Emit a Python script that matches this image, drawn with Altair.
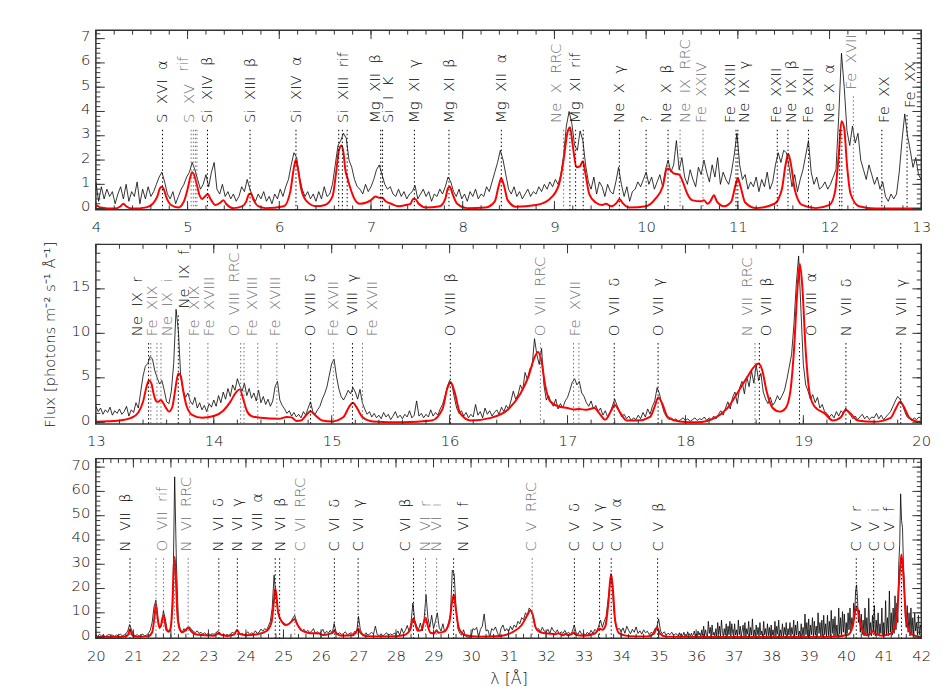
import altair as alt
import pandas as pd
import numpy as np

FONT = "DejaVu Sans"
SP = "\u00a0\u00a0"   # wide word gap used in the line labels

# ---------------- Panel 1 : 4-13 A ----------------
P1_START, P1_STEP = 4.00, 0.03
p1_flux = [
    1.1, 0.3, 0.9, 0.4, 0.8, 0.5, 0.7, 0.2, 0.6, 0.9,
    0.4, 1.0, 0.3, 0.7, 0.5, 1.1, 0.2, 0.8, 0.4, 0.9,
    0.5, 0.7, 1.0, 1.3, 1.5, 1.1, 0.6, 0.4, 0.7, 0.2,
    0.5, 0.8, 1.0, 1.3, 1.5, 1.9, 1.6, 1.2, 0.8, 1.0,
    1.4, 0.9, 1.5, 1.9, 0.8, 0.6, 1.0, 0.5, 0.7, 0.4,
    0.6, 0.3, 0.5, 0.9, 0.7, 1.2, 0.8, 0.5, 0.3, 0.6,
    0.4, 0.7, 0.3, 0.5, 0.2, 0.6, 0.4, 0.8, 0.5, 0.9,
    1.2, 1.8, 2.3, 2.1, 1.3, 0.8, 0.5, 0.7, 0.4, 0.6,
    0.3, 0.7, 0.4, 0.9, 0.5, 0.6, 1.0, 1.8, 2.6, 2.8,
    3.1, 2.9, 2.0, 1.7, 1.2, 0.9, 0.8, 0.6, 1.0, 0.7,
    0.9, 1.2, 1.6, 1.8, 1.4, 1.0, 0.8, 0.9, 0.6, 0.5,
    0.8, 0.5, 0.7, 0.4, 0.6, 0.7, 0.95, 0.4, 0.6, 0.8,
    0.5, 0.7, 0.3, 0.6, 0.5, 0.8, 0.6, 0.9, 1.3, 1.1,
    0.7, 0.5, 0.8, 0.4, 0.6, 0.3, 0.7, 0.5, 0.8, 0.4,
    0.6, 0.5, 0.9, 0.7, 1.1, 1.5, 1.9, 2.4, 2.0, 1.4,
    0.8, 0.6, 0.9, 0.5, 0.7, 0.4, 0.6, 0.8, 0.5, 0.7,
    0.6, 0.9, 0.7, 1.0, 0.8, 1.1, 0.9, 1.2, 1.0, 1.4,
    2.2, 3.4, 4.0, 3.5, 2.6, 2.4, 3.2, 2.8, 1.8, 1.1,
    0.8, 1.3, 0.6, 1.1, 0.9, 0.5, 1.0, 0.7, 0.6, 1.1,
    1.7, 1.0, 0.5, 0.9, 0.3, 0.7, 0.8, 1.1, 0.9, 1.2,
    1.5, 1.0, 1.3, 0.8, 1.1, 1.4, 0.9, 1.6, 2.0, 1.5,
    1.8, 2.8, 1.6, 2.1, 1.3, 1.0, 1.6, 1.2, 0.9, 1.7,
    1.4, 2.0, 1.5, 1.1, 1.8, 1.3, 2.1, 1.0, 1.5, 1.2,
    1.0, 1.5, 2.2, 3.1, 1.8, 1.2, 1.4, 0.8, 1.1, 0.9,
    1.3, 0.7, 1.2, 0.9, 1.5, 0.8, 1.1, 1.8, 2.3, 1.9,
    2.4, 2.3, 1.7, 0.9, 1.4, 0.7, 1.2, 1.6, 2.2, 2.8,
    1.5, 1.0, 1.3, 0.8, 0.9, 1.1, 0.8, 1.0, 1.3, 1.6,
    3.8, 6.4, 5.0, 3.2, 2.6, 3.4, 2.7, 3.1, 2.0, 1.6,
    1.2, 1.8, 1.4, 1.0, 1.3, 0.8, 1.1, 0.5, 0.3, 0.6,
    0.4, 0.6, 1.5, 2.8, 3.9, 3.0, 2.4, 1.7, 2.1, 1.4,
    1.2,
]
p1_model = [
    (4.00, 0.15), (4.05, 0.05), (4.20, 0.0), (4.27, 0.1), (4.30, 0.2), (4.33, 0.1),
    (4.40, 0.0), (4.55, 0.05), (4.62, 0.2), (4.67, 0.5), (4.70, 0.85), (4.72, 0.9),
    (4.74, 0.8), (4.77, 0.45), (4.82, 0.15), (4.90, 0.05), (4.96, 0.3), (5.00, 0.8),
    (5.03, 1.3), (5.05, 1.5), (5.07, 1.4), (5.10, 1.0), (5.13, 0.55), (5.16, 0.4),
    (5.19, 0.5), (5.22, 0.6), (5.25, 0.4), (5.30, 0.15), (5.36, 0.25), (5.39, 0.35),
    (5.42, 0.2), (5.50, 0.02), (5.60, 0.1), (5.64, 0.3), (5.67, 0.6), (5.69, 0.62),
    (5.72, 0.35), (5.77, 0.1), (5.85, 0.02), (6.05, 0.1), (6.12, 0.7), (6.16, 1.7),
    (6.18, 2.0), (6.20, 1.7), (6.24, 0.8), (6.30, 0.3), (6.40, 0.1), (6.50, 0.15),
    (6.58, 0.5), (6.62, 1.5), (6.65, 2.4), (6.68, 2.6), (6.70, 2.3), (6.72, 1.6),
    (6.74, 1.3), (6.77, 0.9), (6.82, 0.4), (6.88, 0.2), (6.95, 0.25), (7.00, 0.35),
    (7.05, 0.5), (7.09, 0.45), (7.12, 0.45), (7.16, 0.3), (7.22, 0.2), (7.30, 0.1),
    (7.38, 0.15), (7.43, 0.2), (7.46, 0.4), (7.48, 0.4), (7.52, 0.2), (7.60, 0.05),
    (7.75, 0.1), (7.81, 0.4), (7.84, 0.85), (7.86, 0.9), (7.89, 0.6), (7.94, 0.2),
    (8.05, 0.02), (8.25, 0.05), (8.35, 0.3), (8.39, 0.9), (8.42, 1.25), (8.45, 0.95),
    (8.49, 0.35), (8.58, 0.08), (8.80, 0.15), (8.95, 0.4), (9.05, 1.0), (9.10, 2.0),
    (9.14, 3.1), (9.17, 3.35), (9.20, 2.6), (9.24, 1.7), (9.28, 1.75), (9.31, 1.95),
    (9.34, 1.4), (9.38, 0.6), (9.45, 0.25), (9.52, 0.15), (9.56, 0.2), (9.62, 0.1),
    (9.68, 0.25), (9.71, 0.4), (9.74, 0.25), (9.82, 0.05), (10.00, 0.1), (10.10, 0.4),
    (10.18, 0.9), (10.23, 1.65), (10.26, 1.6), (10.30, 1.45), (10.36, 1.4), (10.40, 1.1),
    (10.45, 0.6), (10.50, 0.35), (10.60, 0.3), (10.63, 0.35), (10.67, 0.2), (10.70, 0.3),
    (10.74, 0.55), (10.77, 0.3), (10.85, 0.1), (10.93, 0.3), (10.97, 0.9), (11.00, 1.25),
    (11.03, 0.9), (11.08, 0.25), (11.20, 0.02), (11.40, 0.2), (11.48, 0.8), (11.52, 1.8),
    (11.55, 2.25), (11.58, 1.8), (11.62, 0.8), (11.70, 0.15), (11.85, 0.02), (12.00, 0.15),
    (12.06, 0.7), (12.10, 2.2), (12.13, 3.6), (12.16, 3.3), (12.19, 1.8), (12.23, 0.6),
    (12.32, 0.1), (12.50, 0.0), (13.00, 0.0),
]
# (label, label x, [line wavelengths], colour code, label start y or None)
p1_ids = [
    ("S  XVI  α", 4.72, [4.727], "k", None),
    ("S  XV", 5.02, [5.039, 5.063, 5.085, 5.102], "g", None),
    ("rif", 4.955, [], "g", 5.64),
    ("Si  XIV  β", 5.21, [5.217], "k", None),
    ("Si  XIII  β", 5.68, [5.681], "k", None),
    ("Si  XIV  α", 6.18, [6.182], "k", None),
    ("Si  XIII  rif", 6.69, [6.648, 6.688, 6.740], "k", None),
    ("Mg  XII  β", 7.04, [7.106], "k", None),
    ("Si  I  K", 7.19, [7.126], "k", None),
    ("Mg  XI  γ", 7.473, [7.473], "k", None),
    ("Mg  XI  β", 7.85, [7.850], "k", None),
    ("Mg  XII  α", 8.42, [8.421], "k", None),
    ("Ne  X  RRC", 9.02, [9.10], "g", None),
    ("Mg  XI  rif", 9.22, [9.169, 9.231, 9.314], "k", None),
    ("Ne  X  γ", 9.708, [9.708], "k", None),
    ("?", 10.00, [10.00], "k", None),
    ("Ne  X  β", 10.22, [10.239], "k", None),
    ("Ne  IX  RRC", 10.42, [10.37], "g", None),
    ("Fe  XXIV", 10.60, [10.62], "g", None),
    ("Fe  XXIII", 10.91, [10.98], "k", None),
    ("Ne  IX  γ", 11.07, [11.00], "k", None),
    ("Fe  XXII", 11.42, [11.43], "k", None),
    ("Ne  IX  β", 11.58, [11.547], "k", None),
    ("Fe  XXII", 11.77, [11.77], "k", None),
    ("Ne  X  α", 12.00, [12.11, 12.134], "k", None),
    ("Fe  XVII", 12.235, [12.26], "g", 4.91),
    ("Fe  XX", 12.59, [12.57], "k", None),
    ("Fe  XX", 12.88, [12.845], "k", 4.14),
]

# ---------------- Panel 2 : 13-20 A ----------------
P2_START, P2_STEP = 13.00, 0.02
p2_flux = [
    1.8, 1.2, 1.6, 0.9, 1.4, 1.1, 1.7, 0.8, 1.3, 1.0,
    1.5, 0.9, 1.2, 1.8, 0.7, 1.4, 1.1, 2.2, 1.6, 3.4,
    5.2, 6.3, 6.6, 7.4, 7.1, 5.8, 5.0, 4.3, 4.7, 3.6,
    2.3, 2.1, 3.5, 6.6, 12.7, 10.2, 5.0, 3.6, 2.8, 3.3,
    2.4, 2.0, 2.8, 1.6, 2.2, 1.4, 1.9, 1.2, 2.1, 1.7,
    2.5, 1.8, 3.0, 2.2, 3.4, 2.6, 3.8, 2.9, 4.2, 3.6,
    4.9, 4.1, 3.5, 4.4, 3.0, 3.8, 2.7, 3.3, 2.4, 3.6,
    2.2, 2.9, 2.0, 2.6, 1.8, 2.4, 4.0, 4.6, 2.5, 1.9,
    1.5, 1.0, 1.3, 0.7, 1.1, 0.6, 0.9, 0.5, 1.2, 0.8,
    1.6, 2.3, 1.2, 0.9, 1.4, 1.8, 2.6, 3.2, 4.0, 5.3,
    6.6, 7.1, 5.2, 3.8, 2.9, 2.5, 3.0, 3.6, 3.2, 3.9,
    3.4, 2.6, 3.7, 2.2, 1.5, 0.9, 1.2, 0.6, 1.0, 0.5,
    0.8, 0.4, 1.1, 0.6, 0.9, 0.3, 0.7, 1.2, 0.5, 0.8,
    0.4, 0.9, 0.6, 1.3, 0.5, 0.8, 2.4, 0.7, 1.0, 0.5,
    0.9, 0.6, 1.4, 0.7, 1.1, 0.8, 1.5, 2.0, 2.9, 4.0,
    4.7, 4.2, 2.8, 1.6, 1.0, 1.3, 0.7, 1.1, 0.5, 0.9,
    0.6, 2.0, 0.8, 1.2, 0.5, 1.6, 0.9, 1.3, 0.7, 1.1,
    1.4, 0.9, 1.7, 1.2, 1.9, 1.5, 2.4, 3.5, 2.6, 3.1,
    4.2, 3.6, 5.6, 4.8, 6.0, 6.3, 9.4, 7.6, 6.5, 8.3,
    4.2, 2.5, 3.0, 2.2, 1.8, 2.6, 1.5, 2.1, 1.6, 2.4,
    2.8, 3.6, 4.5, 4.9, 4.2, 4.6, 3.3, 2.9, 2.2, 1.8,
    2.4, 1.5, 1.9, 1.2, 1.6, 0.8, 1.3, 0.6, 1.1, 1.8,
    2.6, 1.9, 1.2, 0.6, 0.9, 0.4, 0.7, 0.2, 0.5, 0.3,
    0.8, 0.4, 1.1, 0.6, 1.5, 0.9, 1.8, 2.4, 3.9, 3.2,
    2.0, 1.1, 0.6, 0.3, 0.5, 0.2, 0.4, 0.1, 0.3, 0.5,
    0.2, 0.4, 0.1, 0.3, 0.5, 0.2, 0.4, 0.3, 0.6, 0.2,
    0.5, 0.3, 0.7, 0.4, 0.9, 1.3, 0.8, 1.6, 2.3, 1.5,
    2.8, 3.4, 2.1, 3.9, 4.6, 3.2, 5.1, 4.0, 5.8, 4.4,
    6.5, 4.7, 5.5, 3.4, 2.6, 2.1, 2.8, 1.9, 2.3, 3.0,
    2.5, 3.0, 3.6, 4.8, 6.2, 7.6, 11.0, 15.5, 18.7, 12.5,
    6.5, 4.2, 3.5, 2.6, 3.1, 2.2, 2.8, 1.6, 2.0, 1.2,
    1.0, 0.6, 0.9, 0.5, 1.2, 0.7, 1.3, 1.0, 1.6, 1.1,
    0.8, 0.4, 0.7, 0.3, 0.6, 0.9, 0.4, 0.7, 0.3, 0.6,
    0.5, 1.0, 0.4, 0.8, 0.3, 0.6, 0.9, 1.2, 1.8, 2.4,
    2.9, 2.6, 2.0, 1.2, 0.6, 0.4, 0.2, 0.5, 0.3, 0.6,
    0.4,
]
p2_model = [
    (13.00, 0.05), (13.20, 0.2), (13.30, 0.5), (13.36, 1.1), (13.40, 2.3), (13.43, 4.0),
    (13.45, 4.7), (13.47, 4.4), (13.49, 3.2), (13.51, 2.4), (13.53, 2.3), (13.55, 2.5),
    (13.57, 2.2), (13.60, 1.5), (13.62, 1.2), (13.65, 1.8), (13.67, 3.4), (13.70, 5.5),
    (13.72, 5.2), (13.74, 3.6), (13.77, 1.8), (13.82, 0.8), (13.90, 0.5), (14.00, 0.7),
    (14.08, 1.3), (14.14, 2.3), (14.19, 3.4), (14.22, 3.7), (14.25, 2.6), (14.28, 1.3),
    (14.32, 0.7), (14.40, 0.5), (14.55, 0.4), (14.62, 0.6), (14.66, 0.55), (14.70, 0.15),
    (14.74, 0.2), (14.79, 0.9), (14.82, 1.25), (14.86, 0.8), (14.92, 0.2), (15.00, 0.1),
    (15.10, 0.6), (15.15, 1.8), (15.18, 2.2), (15.21, 1.7), (15.26, 0.6), (15.35, 0.1),
    (15.60, 0.0), (15.85, 0.2), (15.94, 1.5), (15.98, 3.8), (16.01, 4.5), (16.04, 3.5),
    (16.09, 1.0), (16.18, 0.2), (16.35, 0.5), (16.50, 1.5), (16.60, 3.2), (16.67, 5.2),
    (16.72, 7.3), (16.75, 7.9), (16.78, 6.8), (16.81, 4.2), (16.85, 2.4), (16.92, 1.8),
    (17.00, 1.6), (17.05, 1.45), (17.10, 1.5), (17.15, 1.4), (17.23, 1.6), (17.27, 1.0),
    (17.32, 0.3), (17.37, 1.3), (17.40, 1.95), (17.45, 1.0), (17.50, 0.2), (17.60, 0.2),
    (17.70, 0.6), (17.74, 1.8), (17.77, 2.8), (17.80, 2.2), (17.85, 0.6), (17.95, 0.1),
    (18.10, 0.0), (18.25, 0.5), (18.35, 1.5), (18.45, 3.5), (18.52, 5.0), (18.58, 6.2),
    (18.62, 6.6), (18.65, 5.9), (18.69, 3.4), (18.74, 1.6), (18.80, 1.2), (18.85, 1.6),
    (18.89, 3.5), (18.92, 8.0), (18.95, 15.0), (18.97, 17.8), (18.99, 15.5), (19.02, 8.0),
    (19.06, 2.8), (19.10, 1.7), (19.18, 1.0), (19.25, 0.2), (19.32, 0.6), (19.36, 1.4),
    (19.40, 1.0), (19.46, 0.2), (19.60, 0.05), (19.74, 0.5), (19.79, 1.7), (19.82, 2.3),
    (19.85, 1.8), (19.90, 0.5), (19.96, 0.1), (20.00, 0.05),
]
p2_ids = [
    ("Ne  IX  r", 13.35, [13.447], "k", None),
    ("Fe  XIX", 13.475, [13.466, 13.518], "g", None),
    ("Ne  IX  i", 13.605, [13.552], "g", None),
    ("Ne  IX  f", 13.745, [13.699], "k", 12.79),
    ("Fe  XIX", 13.83, [13.795], "g", None),
    ("Fe  XVIII", 13.96, [13.95], "g", None),
    ("O  VIII  RRC", 14.17, [14.228], "g", None),
    ("Fe  XVIII", 14.325, [14.256, 14.373], "g", None),
    ("Fe  XVIII", 14.52, [14.535], "g", None),
    ("O  VIII  δ", 14.82, [14.821], "k", None),
    ("Fe  XVII", 15.015, [15.014], "g", None),
    ("O  VIII  γ", 15.176, [15.176], "k", None),
    ("Fe  XVII", 15.345, [15.261], "g", None),
    ("O  VIII  β", 16.006, [16.006], "k", None),
    ("O  VII  RRC", 16.77, [16.77], "g", None),
    ("Fe  XVII", 17.06, [17.051, 17.096], "g", None),
    ("O  VII  δ", 17.396, [17.396], "k", None),
    ("O  VII  γ", 17.768, [17.768], "k", None),
    ("N  VII  RRC", 18.526, [18.59], "g", None),
    ("O  VII  β", 18.685, [18.627], "k", None),
    ("O  VIII  α", 19.065, [18.967], "k", None),
    ("N  VII  δ", 19.361, [19.361], "k", None),
    ("N  VII  γ", 19.826, [19.826], "k", None),
]

# ---------------- Panel 3 : 20-42 A ----------------
# 20.00-35.45 A sampled every 0.05 A
P3_START, P3_STEP = 20.00, 0.05
p3_flux = [
    0.8, 0.3, 1.2, 0.5, 0.9, 0.2, 0.7, 1.1, 0.4, 0.8,
    0.3, 0.9, 0.5, 1.3, 0.6, 0.8, 1.4, 2.5, 5.2, 3.0,
    1.2, 0.6, 1.0, 0.4, 0.8, 1.2, 0.5, 0.9, 1.5, 2.8,
    6.0, 12.5, 15.2, 8.0, 3.5, 5.0, 10.8, 7.5, 3.0, 2.5,
    4.0, 12.0, 66.0, 28.0, 6.5, 3.0, 2.2, 3.5, 2.4, 3.8,
    4.2, 3.0, 2.4, 1.8, 2.6, 1.5, 2.0, 1.2, 1.8, 1.0,
    1.6, 0.9, 1.4, 1.1, 1.8, 2.4, 1.2, 0.8, 1.3, 0.7,
    1.1, 0.6, 1.5, 2.0, 1.2, 3.1, 2.2, 1.0, 1.6, 0.9,
    1.4, 2.2, 1.0, 1.8, 1.3, 2.6, 1.5, 2.0, 3.3, 2.4,
    3.5, 2.8, 4.6, 6.5, 12.0, 25.5, 17.0, 10.5, 8.0, 6.6,
    6.0, 5.4, 4.8, 5.6, 6.4, 7.8, 9.0, 6.2, 4.4, 3.0,
    2.6, 3.2, 2.0, 2.8, 1.8, 2.4, 3.5, 1.6, 2.2, 1.5,
    2.0, 3.2, 1.4, 2.4, 1.7, 2.8, 1.5, 5.6, 2.2, 1.3,
    1.8, 1.0, 1.5, 2.2, 0.9, 1.4, 1.8, 1.2, 2.4, 1.6,
    8.5, 3.0, 1.4, 1.0, 1.8, 0.8, 1.3, 2.0, 1.2, 4.5,
    1.0, 0.6, 1.4, 0.5, 1.1, 1.8, 0.7, 1.3, 0.9, 1.6,
    1.2, 2.5, 0.8, 3.6, 1.5, 2.8, 4.8, 2.2, 6.0, 14.0,
    7.0, 4.5, 3.0, 5.8, 2.5, 7.5, 17.5, 8.0, 4.0, 9.0,
    3.5, 6.5, 10.0, 4.0, 2.5, 5.5, 2.0, 3.5, 6.0, 9.0,
    27.5, 26.0, 12.0, 3.5, 1.5, 0.8, 3.0, 0.5, 0.0, 0.0,
    0.0, 3.5, 3.0, 4.0, 0.0, 3.2, 4.5, 9.5, 2.5, 3.0,
    0.0, 3.5, 2.8, 4.2, 2.0, 0.0, 3.6, 5.0, 2.5, 3.5,
    2.2, 4.5, 3.0, 5.0, 4.0, 6.5, 5.5, 8.0, 7.2, 10.0,
    9.0, 12.0, 11.0, 8.5, 5.0, 2.8, 3.5, 2.2, 4.0, 2.5,
    2.0, 3.2, 1.5, 4.0, 2.6, 1.8, 3.0, 1.2, 2.2, 1.5,
    2.8, 1.4, 2.0, 1.0, 2.4, 5.0, 1.8, 1.2, 2.6, 1.0,
    1.6, 0.8, 2.0, 1.2, 2.8, 1.5, 3.2, 2.4, 4.5, 7.0,
    4.0, 6.5, 8.5, 15.0, 22.0, 25.0, 12.0, 5.0, 3.0, 3.6,
    2.2, 3.8, 1.6, 4.5, 2.8, 1.4, 3.2, 2.0, 4.2, 1.5,
    2.6, 1.2, 3.0, 1.8, 2.4, 1.0, 2.0, 1.5, 3.5, 4.0,
    7.5, 2.5, 1.4, 2.2, 0.8, 1.6, 1.0, 2.0, 0.6, 1.4,
]
# 35.50-42.00 A, finer bins (0.025 A)
P3B_START, P3B_STEP = 35.50, 0.025
p3b_flux = [
    1.0, 0.4, 1.8, 0.6, 1.5, 0.3, 0.9, 2.0, 0.5, 1.2,
    0.3, 2.2, 0.8, 1.4, 0.2, 1.6, 0.6, 1.0, 2.5, 0.4,
    1.4, 0.3, 2.5, 0.8, 1.8, 0.2, 3.0, 0.6, 4.5, 0.5,
    3.0, 1.0, 0.2, 6.5, 1.5, 4.0, 0.3, 5.0, 0.8, 2.0,
    0.5, 3.5, 0.2, 6.0, 1.2, 4.5, 0.4, 7.0, 2.0, 0.3,
    3.5, 0.8, 5.5, 0.2, 4.5, 1.0, 6.5, 0.3, 5.5, 1.5,
    0.4, 5.5, 0.8, 3.0, 0.2, 7.0, 1.0, 4.5, 0.3, 2.5,
    5.0, 0.5, 6.0, 0.2, 3.5, 1.2, 6.5, 0.3, 4.0, 0.8,
    7.5, 0.4, 3.0, 0.2, 5.0, 1.0, 4.0, 0.3, 6.0, 0.8,
    2.5, 0.3, 6.5, 1.0, 3.5, 0.2, 5.5, 0.6, 4.0, 0.3,
    5.0, 0.8, 3.0, 0.2, 6.5, 0.5, 4.5, 1.2, 7.0, 0.3,
    3.0, 0.5, 5.5, 0.2, 4.0, 1.0, 6.0, 0.3, 3.5, 0.8,
    6.0, 0.3, 4.0, 1.2, 7.0, 0.2, 5.0, 0.8, 6.5, 0.4,
    2.5, 0.2, 5.5, 0.6, 4.0, 0.3, 9.5, 1.0, 6.0, 0.5,
    7.5, 0.3, 5.0, 1.0, 8.0, 0.2, 6.5, 0.8, 4.5, 0.3,
    10.0, 1.5, 6.0, 0.4, 7.0, 0.2, 9.0, 1.0, 5.5, 0.3,
    9.0, 0.6, 6.5, 0.2, 11.0, 1.5, 7.5, 0.4, 8.5, 0.5,
    5.0, 0.3, 12.0, 1.2, 8.0, 0.5, 10.5, 2.0, 9.5, 1.0,
    6.0, 1.5, 10.0, 3.0, 12.0, 2.5, 8.0, 4.0, 14.0, 9.0,
    19.0, 21.5, 16.0, 6.0, 11.0, 2.0, 9.5, 1.0, 7.0, 0.5,
    12.0, 0.8, 8.0, 0.4, 16.0, 1.0, 6.0, 0.5, 9.0, 2.5,
    13.0, 0.5, 7.0, 1.0, 10.0, 0.4, 5.5, 1.5, 12.0, 0.6,
    6.0, 0.5, 15.0, 1.0, 8.0, 0.6, 19.0, 2.0, 10.0, 0.8,
    12.0, 1.5, 17.0, 3.0, 14.0, 6.0, 30.0, 38.0, 59.0, 48.0,
    45.0, 30.0, 22.0, 8.0, 4.0, 13.0, 2.0, 10.0, 0.5, 12.0,
    1.0, 8.0, 0.5, 10.0, 2.5, 6.0, 0.8, 9.0, 1.0, 5.0,
    3.0,
]
p3_model = [
    (20.00, 0.0), (20.70, 0.05), (20.84, 0.6), (20.88, 2.0), (20.91, 3.2), (20.94, 2.0),
    (20.98, 0.6), (21.10, 0.1), (21.40, 0.4), (21.50, 2.0), (21.56, 8.0), (21.60, 13.5),
    (21.64, 8.5), (21.69, 4.0), (21.73, 4.5), (21.77, 7.5), (21.80, 8.8), (21.83, 7.0),
    (21.88, 3.0), (21.95, 2.2), (22.00, 4.5), (22.04, 14.0), (22.08, 30.0), (22.10, 33.0),
    (22.13, 25.0), (22.17, 10.0), (22.23, 3.5), (22.30, 2.0), (22.40, 3.0), (22.46, 4.0),
    (22.52, 2.8), (22.65, 1.2), (22.90, 0.8), (23.15, 0.6), (23.24, 1.4), (23.28, 1.8),
    (23.33, 1.0), (23.50, 0.5), (23.68, 1.0), (23.74, 2.4), (23.78, 2.6), (23.83, 1.3),
    (24.00, 0.8), (24.30, 1.2), (24.55, 2.5), (24.68, 6.0), (24.74, 14.0), (24.78, 20.0),
    (24.81, 17.5), (24.86, 10.0), (24.95, 6.5), (25.05, 5.0), (25.15, 5.5), (25.25, 7.0),
    (25.30, 7.5), (25.36, 5.5), (25.50, 2.6), (25.70, 1.6), (25.95, 1.5), (26.05, 0.9),
    (26.20, 1.2), (26.32, 2.0), (26.36, 2.6), (26.41, 1.5), (26.55, 0.6), (26.85, 0.8),
    (26.95, 2.5), (26.99, 3.6), (27.04, 2.0), (27.20, 0.4), (27.80, 0.3), (28.20, 0.8),
    (28.38, 3.0), (28.45, 7.5), (28.50, 6.0), (28.58, 2.6), (28.68, 3.0), (28.75, 6.5),
    (28.79, 8.0), (28.84, 5.0), (28.92, 1.8), (29.02, 1.5), (29.08, 2.8), (29.13, 1.8),
    (29.30, 2.5), (29.42, 6.0), (29.50, 15.0), (29.54, 17.5), (29.59, 12.0), (29.68, 3.5),
    (29.85, 0.8), (30.20, 0.2), (30.80, 0.5), (31.10, 2.0), (31.35, 5.0), (31.50, 9.0),
    (31.58, 11.0), (31.64, 9.5), (31.72, 4.0), (31.85, 2.0), (32.10, 1.4), (32.25, 1.2),
    (32.33, 1.6), (32.38, 1.2), (32.46, 0.8), (32.52, 1.4), (32.58, 0.8), (32.70, 1.4),
    (32.75, 2.0), (32.80, 1.0), (33.00, 0.6), (33.30, 1.5), (33.43, 3.5), (33.50, 3.0),
    (33.58, 4.5), (33.66, 14.0), (33.73, 26.0), (33.78, 20.0), (33.84, 7.0), (33.95, 1.5),
    (34.20, 0.4), (34.70, 0.3), (34.88, 1.5), (34.96, 4.0), (35.03, 1.5), (35.20, 0.2),
    (36.00, 0.0), (38.00, 0.0), (39.60, 0.1), (40.05, 1.0), (40.18, 5.0), (40.27, 12.5),
    (40.32, 10.5), (40.40, 4.0), (40.55, 0.8), (40.66, 1.5), (40.72, 2.5), (40.78, 1.3),
    (40.95, 0.6), (41.20, 1.5), (41.33, 6.0), (41.42, 25.0), (41.47, 34.0), (41.52, 26.0),
    (41.60, 7.0), (41.75, 1.0), (42.00, 0.1),
]
p3_ids = [
    ("N  VII  β", 20.79, [20.910], "k", None),
    ("O  VII  rif", 21.755, [21.602, 21.804, 22.098], "g", None),
    ("N  VI  RRC", 22.41, [22.46], "g", None),
    ("N  VI  δ", 23.245, [23.277], "k", None),
    ("N  VI  γ", 23.771, [23.771], "k", None),
    ("N  VII  α", 24.30, [24.781], "k", None),
    ("N  VI  β", 24.91, [24.898], "k", None),
    ("C  VI  RRC", 25.44, [25.30], "g", None),
    ("C  VI  δ", 26.357, [26.357], "k", None),
    ("C  VI  γ", 26.990, [26.990], "k", None),
    ("C  VI  β", 28.245, [28.466], "k", None),
    ("N  VI  r", 28.77, [28.787], "g", None),
    ("N  VI  i", 29.08, [29.083], "g", None),
    ("N  VI  f", 29.78, [29.534], "k", None),
    ("C  V  RRC", 31.60, [31.63], "g", None),
    ("C  V  δ", 32.754, [32.754], "k", None),
    ("C  V  γ", 33.38, [33.426], "k", None),
    ("C  VI  α", 33.86, [33.736], "k", None),
    ("C  V  β", 34.973, [34.973], "k", None),
    ("C  V  r", 40.27, [40.268], "k", None),
    ("C  V  i", 40.73, [40.731], "k", None),
    ("C  V  f", 41.14, [41.472], "k", None),
]

COLS = {"k": "#000000", "g": "#6e6e6e"}
W, H = 836, 182
FRAME = "#333333"
WEIGHT = 300
TXT = "#111111"


def build_panel(segments, model, ids, xdom, ydom, xmaj, xminor, ymaj, yminor,
                lab_y, ytitle=None, xtitle=None):
    lam, flx = [], []
    for start, step, flux in segments:
        lam += [round(start + step * i, 4) for i in range(len(flux))]
        flx += list(flux)
    d = pd.DataFrame({"lam": lam, "flux": flx})
    m = pd.DataFrame(model, columns=["lam", "flux"])
    span = ydom[1] - ydom[0]
    gap = 7 * span / H

    lab_rows, rule_rows = [], []
    for text, lx, lines, col, ys in ids:
        y0 = lab_y if ys is None else ys
        lab_rows.append({"lam": lx, "flux": y0, "text": text.replace("  ", SP),
                         "col": COLS[col]})
        for L in lines:
            rule_rows.append({"lam": L, "flux": y0 - gap, "col": COLS[col]})
    labs = pd.DataFrame(lab_rows)
    rules = pd.DataFrame(rule_rows)

    xs = alt.Scale(domain=list(xdom), nice=False, zero=False)
    ys_ = alt.Scale(domain=list(ydom), nice=False, zero=False)

    xax = dict(values=xmaj, ticks=False, tickSize=0, domain=False, grid=False,
               labelPadding=10, labelFontSize=15, labelFont=FONT, labelColor=TXT,
               labelFontWeight=WEIGHT, format="d", labelFlush=False)
    if xtitle:
        xax.update(title=xtitle, titleFontSize=16, titleFont=FONT, titleFontWeight=WEIGHT,
                   titleColor=TXT, titlePadding=8)
    else:
        xax.update(title=None)
    yax = dict(values=ymaj, ticks=False, tickSize=0, domain=False, grid=False,
               labelPadding=6, labelFontSize=15, labelFont=FONT, labelColor=TXT,
               labelFontWeight=WEIGHT, format="d", labelFlush=False, labelOffset=-3)
    if ytitle:
        yax.update(title=ytitle, titleFontSize=15, titleFont=FONT, titleFontWeight=WEIGHT,
                   titleColor=TXT, titlePadding=14)
    else:
        yax.update(title=None)

    X = alt.X("lam:Q", scale=xs, axis=alt.Axis(**xax))
    Y = alt.Y("flux:Q", scale=ys_, axis=alt.Axis(**yax))

    layers = []
    layers.append(alt.Chart(d).mark_line(color="black", strokeWidth=0.8, clip=True)
                  .encode(x=X, y=Y))
    layers.append(alt.Chart(m).mark_line(color="#ff0000", strokeWidth=2, interpolate="monotone",
                                         clip=True).encode(x=X, y=Y))
    layers.append(alt.Chart(rules).mark_rule(strokeDash=[1.5, 2.5], strokeWidth=1)
                  .encode(x=X, y=Y, y2=alt.value(H), color=alt.Color("col:N", scale=None)))
    layers.append(alt.Chart(labs).mark_text(angle=270, align="left", baseline="middle",
                                            fontSize=15, font=FONT, fontWeight=WEIGHT)
                  .encode(x=X, y=Y, text="text:N", color=alt.Color("col:N", scale=None)))

    # inward tick marks on all four sides
    xmaj_df = pd.DataFrame({"lam": xmaj})
    xmin_df = pd.DataFrame({"lam": xminor})
    ymaj_df = pd.DataFrame({"flux": ymaj})
    ymin_df = pd.DataFrame({"flux": yminor})
    for df_, ln in ((xmaj_df, 9), (xmin_df, 4.5)):
        layers.append(alt.Chart(df_).mark_rule(color=FRAME, strokeWidth=1)
                      .encode(x=X, y=alt.value(H), y2=alt.value(H - ln)))
        layers.append(alt.Chart(df_).mark_rule(color=FRAME, strokeWidth=1)
                      .encode(x=X, y=alt.value(0), y2=alt.value(ln)))
    for df_, ln in ((ymaj_df, 9), (ymin_df, 4.5)):
        layers.append(alt.Chart(df_).mark_rule(color=FRAME, strokeWidth=1)
                      .encode(y=Y, x=alt.value(0), x2=alt.value(ln)))
        layers.append(alt.Chart(df_).mark_rule(color=FRAME, strokeWidth=1)
                      .encode(y=Y, x=alt.value(W), x2=alt.value(W - ln)))
    return alt.layer(*layers).properties(width=W, height=H)


def rng(a, b, s):
    return [round(v, 3) for v in np.arange(a, b + s / 2, s)]


p1 = build_panel([(P1_START, P1_STEP, p1_flux)], p1_model, p1_ids, (4, 13), (-0.05, 7.35),
                 list(range(4, 14)), rng(4, 13, 0.2), list(range(0, 8)), rng(0, 7.2, 0.2),
                 3.53)
p2 = build_panel([(P2_START, P2_STEP, p2_flux)], p2_model, p2_ids, (13, 20), (-0.2, 20.0),
                 list(range(13, 21)), rng(13, 20, 0.2), [0, 5, 10, 15], rng(0, 20, 1),
                 9.68, ytitle="Flux [photons m⁻² s⁻¹ Å⁻¹]")
p3 = build_panel([(P3_START, P3_STEP, p3_flux), (P3B_START, P3B_STEP, p3b_flux)],
                 p3_model, p3_ids, (20, 42), (-0.5, 73.5),
                 list(range(20, 43)), rng(20, 42, 0.2), list(range(0, 80, 10)), rng(0, 72, 2),
                 35.3, xtitle="λ [Å]")

chart = (
    alt.vconcat(p1, p2, p3, spacing=35, bounds="flush")
    .properties(padding={"left": 34, "top": 15, "right": 10, "bottom": 4}, background="white")
    .configure_view(stroke=FRAME, strokeWidth=1.5)
)

chart.save("out.html", embed_options={"renderer": "svg", "actions": False})
